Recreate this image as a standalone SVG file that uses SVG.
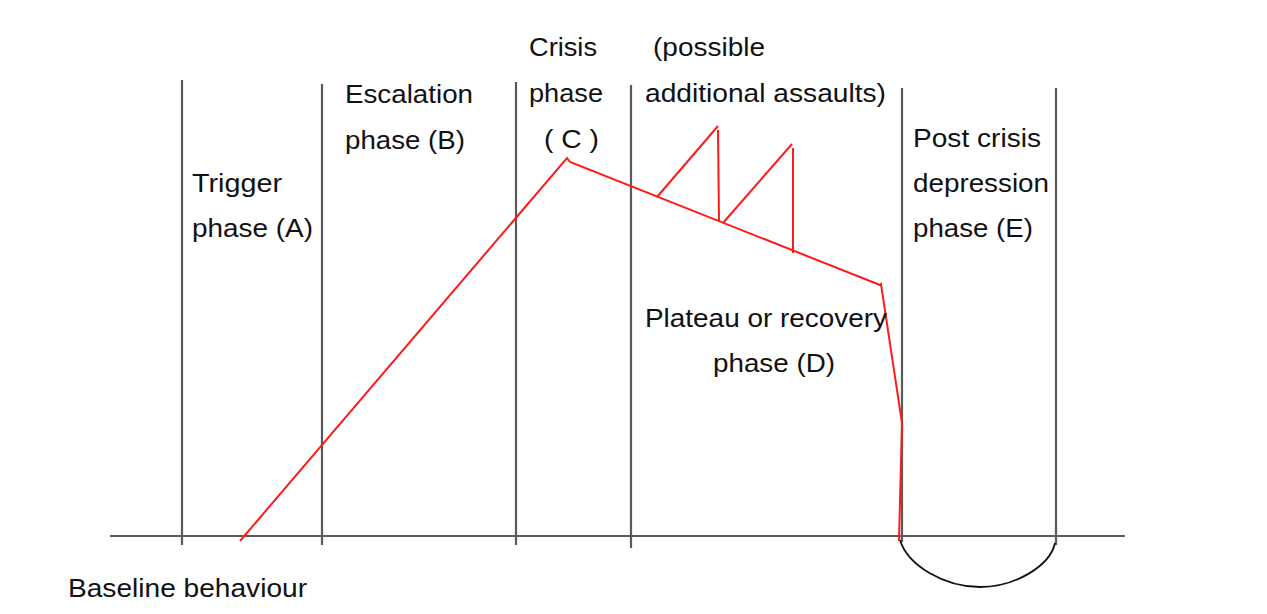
<svg xmlns="http://www.w3.org/2000/svg" width="1267" height="614" viewBox="0 0 1267 614">
<style>
.t{font-family:"Liberation Sans",Arial,sans-serif;font-size:26px;fill:#111}
.g{stroke:#5a5a5a;stroke-width:2.2;fill:none}
.r{stroke:#ff1a1a;stroke-width:2;fill:none;stroke-linejoin:miter}
.k{stroke:#111;stroke-width:1.8;fill:none}
</style>
<rect width="1267" height="614" fill="#fff"/>
<g id="axes">
<line class="g" x1="110" y1="536" x2="1125" y2="536"/>
<line class="g" x1="182" y1="80" x2="182" y2="545"/>
<line class="g" x1="322" y1="84" x2="322" y2="545"/>
<line class="g" x1="516" y1="82" x2="516" y2="545"/>
<line class="g" x1="631" y1="85" x2="631" y2="548"/>
<line class="g" x1="902" y1="88" x2="902" y2="542"/>
<line class="g" x1="1056" y1="88" x2="1056" y2="545"/>
</g>
<g id="connectors">
<path class="k" d="M900 540 C908 566 945 587 980 587 C1015 587 1050 566 1055 543"/>
<polyline class="r" points="240,541 567,158 570,162 880,285 881,284 902,423 899,541"/>
<polyline class="r" points="657,197 718,126"/>
<line class="r" x1="718" y1="130" x2="719" y2="222"/>
<polyline class="r" points="723,223 792,144"/>
<line class="r" x1="793" y1="148" x2="793" y2="253"/>
</g>
<g id="trigger"><text class="t" x="192" y="192" textLength="90" lengthAdjust="spacingAndGlyphs">Trigger</text><text class="t" x="192" y="237" textLength="121" lengthAdjust="spacingAndGlyphs">phase (A)</text></g>
<g id="escalation"><text class="t" x="345" y="103" textLength="128" lengthAdjust="spacingAndGlyphs">Escalation</text><text class="t" x="345" y="149" textLength="120" lengthAdjust="spacingAndGlyphs">phase (B)</text></g>
<g id="crisis"><text class="t" x="529" y="56" textLength="68" lengthAdjust="spacingAndGlyphs">Crisis</text><text class="t" x="529" y="102" textLength="74" lengthAdjust="spacingAndGlyphs">phase</text><text class="t" x="544" y="148" textLength="55" lengthAdjust="spacingAndGlyphs">( C )</text></g>
<g id="assaults"><text class="t" x="653" y="56" textLength="112" lengthAdjust="spacingAndGlyphs">(possible</text><text class="t" x="645" y="102" textLength="241" lengthAdjust="spacingAndGlyphs">additional assaults)</text></g>
<g id="plateau"><text class="t" x="645" y="327" textLength="242" lengthAdjust="spacingAndGlyphs">Plateau or recovery</text><text class="t" x="713" y="372" textLength="122" lengthAdjust="spacingAndGlyphs">phase (D)</text></g>
<g id="post"><text class="t" x="913" y="147" textLength="128" lengthAdjust="spacingAndGlyphs">Post crisis</text><text class="t" x="913" y="192" textLength="136" lengthAdjust="spacingAndGlyphs">depression</text><text class="t" x="913" y="237" textLength="120" lengthAdjust="spacingAndGlyphs">phase (E)</text></g>
<g id="baseline"><text class="t" x="68" y="597" textLength="239" lengthAdjust="spacingAndGlyphs">Baseline behaviour</text></g>
</svg>
